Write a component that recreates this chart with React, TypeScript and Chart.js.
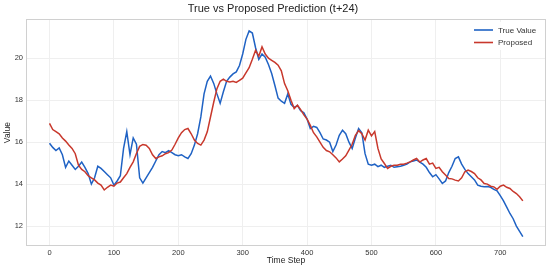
import React, { useEffect, useRef } from "react";
import { Chart, registerables } from "chart.js";

Chart.register(...registerables);

const timeSteps = [
  0, 5, 10, 15, 20, 25, 30, 35, 40, 45, 50, 55, 60, 65, 70, 75, 80, 85, 90, 95,
  100, 105, 110, 115, 120, 125, 130, 135, 140, 145, 150, 155, 160, 165, 170, 175, 180, 185, 190, 195,
  200, 205, 210, 215, 220, 225, 230, 235, 240, 245, 250, 255, 260, 265, 270, 275, 280, 285, 290, 295,
  300, 305, 310, 315, 320, 325, 330, 335, 340, 345, 350, 355, 360, 365, 370, 375, 380, 385, 390, 395,
  400, 405, 410, 415, 420, 425, 430, 435, 440, 445, 450, 455, 460, 465, 470, 475, 480, 485, 490, 495,
  500, 505, 510, 515, 520, 525, 530, 535, 540, 545, 550, 555, 560, 565, 570, 575, 580, 585, 590, 595,
  600, 605, 610, 615, 620, 625, 630, 635, 640, 645, 650, 655, 660, 665, 670, 675, 680, 685, 690, 695,
  700, 705, 710, 715, 720, 725, 730, 735,
];

const trueValues = [
  15.95, 15.75, 15.6, 15.72, 15.4, 14.8, 15.1, 14.9, 14.7, 14.85,
  15.05, 14.8, 14.5, 14.0, 14.3, 14.85, 14.75, 14.6, 14.45, 14.3,
  13.95, 14.15, 14.4, 15.7, 16.5, 15.4, 16.2, 15.9, 14.3, 14.05,
  14.3, 14.55, 14.8, 15.1, 15.4, 15.55, 15.5, 15.6, 15.5, 15.4,
  15.35, 15.4, 15.3, 15.22, 15.45, 15.86, 16.4, 17.2, 18.3, 18.9,
  19.15, 18.8, 18.3, 17.85, 18.4, 18.9, 19.1, 19.25, 19.35, 19.65,
  20.2, 20.9, 21.3, 21.2, 20.5, 19.95, 20.2, 20.05, 19.7, 19.27,
  18.7, 18.1, 17.95, 17.85, 18.3, 17.8, 17.65, 17.75, 17.5, 17.4,
  17.1, 16.65, 16.75, 16.7, 16.45, 16.15, 16.1, 16.0, 15.55, 15.86,
  16.33, 16.57, 16.4, 16.0, 15.7, 16.2, 16.65, 16.45, 15.45, 14.95,
  14.9, 14.95, 14.83, 14.9, 14.8, 14.85, 14.9, 14.8, 14.83, 14.85,
  14.9, 14.95, 15.06, 15.1, 15.15, 15.05, 14.95, 14.8, 14.55, 14.35,
  14.45, 14.25, 14.03, 14.15, 14.55, 14.85, 15.22, 15.3, 14.95, 14.7,
  14.5, 14.35, 14.2, 13.95, 13.9, 13.87, 13.88, 13.85, 13.75, 13.68,
  13.45, 13.2, 12.9, 12.6, 12.35, 12.0, 11.75, 11.5,
];

const proposedValues = [
  16.89, 16.6, 16.5, 16.4, 16.2, 16.05, 15.86, 15.7, 15.45, 14.9,
  14.7, 14.59, 14.4, 14.3, 14.2, 14.05, 13.95, 13.72, 13.85, 13.95,
  13.9, 14.05, 14.1, 14.3, 14.5, 14.8, 15.06, 15.46, 15.8, 15.89,
  15.85, 15.7, 15.4, 15.22, 15.3, 15.35, 15.45, 15.5, 15.62, 15.9,
  16.2, 16.45, 16.6, 16.65, 16.4, 16.1, 15.94, 15.86, 16.1, 16.49,
  17.2, 17.9, 18.55, 18.9, 19.0, 18.9, 18.87, 18.9, 18.85, 18.95,
  19.05, 19.3, 19.55, 19.95, 20.38, 20.1, 20.54, 20.2, 20.0, 19.9,
  19.8, 19.67, 19.4, 18.79, 18.45, 18.0, 17.6, 17.76, 17.55, 17.3,
  17.1, 16.8, 16.45, 16.25, 16.0, 15.75, 15.6, 15.54, 15.4, 15.25,
  15.06, 15.2, 15.35, 15.62, 15.9, 16.33, 16.55, 16.4, 16.1, 16.57,
  16.3, 16.5, 15.7, 15.2, 14.98, 14.75, 14.85, 14.9, 14.9, 14.95,
  14.95, 15.0, 15.06, 15.15, 15.22, 15.05, 15.15, 15.22, 14.95, 15.0,
  14.75, 14.8, 14.59, 14.43, 14.27, 14.25, 14.19, 14.15, 14.3, 14.59,
  14.67, 14.6, 14.5, 14.3, 14.2, 14.03, 14.0, 13.9, 13.87, 13.75,
  13.9, 13.95, 13.85, 13.79, 13.65, 13.55, 13.4, 13.2,
];

const xTicks = [0, 100, 200, 300, 400, 500, 600, 700];
const yTicks = [12, 14, 16, 18, 20];

const seriesNames = ["True Value", "Proposed"];
const seriesColors = ["#1f62c4", "#c8382c"];

const FONT = "'Liberation Sans', Arial, sans-serif";

const frameAndLegend = {
  id: "frameAndLegend",
  afterDraw(chart: any) {
    const { ctx, chartArea } = chart;
    ctx.save();
    ctx.strokeStyle = "#d0d0d0";
    ctx.lineWidth = 1;
    ctx.strokeRect(
      Math.round(chartArea.left) + 0.5,
      Math.round(chartArea.top) + 0.5,
      Math.round(chartArea.right - chartArea.left) - 1,
      Math.round(chartArea.bottom - chartArea.top) - 1
    );
    // legend (top-right inside plot)
    const x0 = 474;
    const rows = [30, 42.5];
    ctx.fillStyle = "rgba(255,255,255,0.85)";
    ctx.fillRect(468, 22, 72, 28);
    ctx.font = `8px ${FONT}`;
    ctx.textBaseline = "middle";
    seriesNames.forEach((name, i) => {
      ctx.strokeStyle = seriesColors[i];
      ctx.lineWidth = 1.6;
      ctx.beginPath();
      ctx.moveTo(x0, rows[i]);
      ctx.lineTo(x0 + 19, rows[i]);
      ctx.stroke();
      ctx.fillStyle = "#333";
      ctx.fillText(name, x0 + 24, rows[i] + 0.5);
    });
    ctx.restore();
  },
};

export default function App() {
  const ref = useRef<HTMLCanvasElement>(null);
  useEffect(() => {
    const canvas = ref.current!;
    const chart = new Chart(canvas, {
      type: "line",
      data: {
        datasets: [
          {
            label: seriesNames[0],
            data: timeSteps.map((t, i) => ({ x: t, y: trueValues[i] })),
            borderColor: seriesColors[0],
            borderWidth: 1.5,
            pointRadius: 0,
            tension: 0,
            order: 1,
          },
          {
            label: seriesNames[1],
            data: timeSteps.map((t, i) => ({ x: t, y: proposedValues[i] })),
            borderColor: seriesColors[1],
            borderWidth: 1.5,
            pointRadius: 0,
            tension: 0,
            order: 0,
          },
        ],
      },
      options: {
        responsive: false,
        animation: false,
        layout: { padding: { left: 0, right: 4, top: 0, bottom: 0 } },
        plugins: {
          legend: { display: false },
          tooltip: { enabled: false },
          title: {
            display: true,
            text: "True vs Proposed Prediction (t+24)",
            color: "#222",
            font: { family: FONT, size: 11, weight: "normal" },
            padding: { top: 2, bottom: 4 },
          },
        },
        scales: {
          x: {
            type: "linear",
            min: -36.5,
            max: 771,
            afterBuildTicks: (scale: any) => {
              scale.ticks = xTicks.map((v) => ({ value: v }));
            },
            afterFit: (scale: any) => {
              scale.height = 23;
            },
            grid: { color: "#efefef", drawTicks: false },
            border: { display: false },
            ticks: {
              color: "#333",
              font: { family: FONT, size: 7.5 },
              padding: 2,
              maxRotation: 0,
            },
            title: {
              display: true,
              text: "Time Step",
              color: "#222",
              font: { family: FONT, size: 8.5 },
              padding: { top: 0, bottom: 3 },
            },
          },
          y: {
            type: "linear",
            min: 11.05,
            max: 21.86,
            afterBuildTicks: (scale: any) => {
              scale.ticks = yTicks.map((v) => ({ value: v }));
            },
            afterFit: (scale: any) => {
              scale.width = 26;
            },
            grid: { color: "#efefef", drawTicks: false },
            border: { display: false },
            ticks: {
              color: "#333",
              font: { family: FONT, size: 7.5 },
              padding: 3,
            },
            title: {
              display: true,
              text: "Value",
              color: "#222",
              font: { family: FONT, size: 8.5 },
              padding: { top: 3, bottom: 0 },
            },
          },
        },
      },
      plugins: [frameAndLegend],
    });
    return () => chart.destroy();
  }, []);
  return (
    <div style={{ position: "fixed", left: 0, top: 0, width: 550, height: 269, background: "#fff" }}>
      <canvas ref={ref} width={550} height={269} style={{ display: "block" }} />
    </div>
  );
}
